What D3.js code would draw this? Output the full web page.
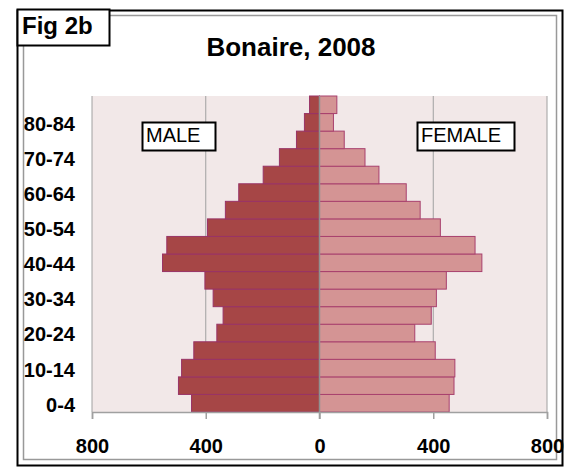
<!DOCTYPE html>
<html>
<head>
<meta charset="utf-8">
<script src="https://cdn.jsdelivr.net/npm/d3@7"></script>
<style>
body { margin: 0; background: #fff; }
text { font-family: Arial, "Liberation Sans", sans-serif; }
</style>
</head>
<body>
<div id="chart"></div>
<script>

// age groups, youngest first
var ageGroups = ["0-4", "5-9", "10-14", "15-19", "20-24", "25-29", "30-34", "35-39",
	"40-44", "45-49", "50-54", "55-59", "60-64", "65-69", "70-74", "75-79", "80-84", "85+"];
var male   = [450, 496, 485, 442, 361, 339, 374, 403, 552, 537, 394, 331, 284, 198, 141, 81, 53, 35];
var female = [456, 473, 476, 407, 335, 393, 411, 446, 571, 547, 425, 354, 305, 209, 160, 87, 49, 61];
var xTicks = [-800, -400, 0, 400, 800];
var yTickLabels = ["0-4", "10-14", "20-24", "30-34", "40-44", "50-54", "60-64", "70-74", "80-84"];

var width = 567, height = 467;
var plotLeft = 92, plotRight = 547, plotTop = 96, plotBottom = 412;

var svg = d3.select("#chart").append("svg")
	.attr("width", width)
	.attr("height", height);

// frames
svg.append("rect").attr("x", 17.5).attr("y", 10.5).attr("width", 545).attr("height", 455)
	.attr("fill", "none").attr("stroke", "#000").attr("stroke-width", 2);
svg.append("rect").attr("x", 23.5).attr("y", 15.5).attr("width", 533).attr("height", 444)
	.attr("fill", "none").attr("stroke", "#999").attr("stroke-width", 1.5);

var x = d3.scaleLinear().domain([-800, 800]).range([plotLeft, plotRight]);
var y = d3.scaleBand().domain(ageGroups.slice().reverse()).range([plotTop, plotBottom]).padding(0);

// plot background
svg.append("rect").attr("x", plotLeft).attr("y", plotTop)
	.attr("width", plotRight - plotLeft).attr("height", plotBottom - plotTop)
	.attr("fill", "#f2e8e8");

// vertical gridlines
svg.selectAll(".grid").data(xTicks).enter().append("line")
	.attr("class", "grid")
	.attr("x1", function(d) { return x(d); })
	.attr("x2", function(d) { return x(d); })
	.attr("y1", plotTop).attr("y2", plotBottom)
	.attr("stroke", "#a0a0a0").attr("stroke-width", 1);

// male bars
svg.selectAll(".male").data(ageGroups).enter().append("rect")
	.attr("class", "male")
	.attr("x", function(d, i) { return x(-male[i]); })
	.attr("y", function(d) { return y(d); })
	.attr("width", function(d, i) { return x(0) - x(-male[i]); })
	.attr("height", y.bandwidth())
	.attr("fill", "#a64646")
	.attr("stroke", "#993366").attr("stroke-width", 1);

// female bars
svg.selectAll(".female").data(ageGroups).enter().append("rect")
	.attr("class", "female")
	.attr("x", x(0))
	.attr("y", function(d) { return y(d); })
	.attr("width", function(d, i) { return x(female[i]) - x(0); })
	.attr("height", y.bandwidth())
	.attr("fill", "#d49494")
	.attr("stroke", "#a8406e").attr("stroke-width", 1);

// zero line
svg.append("line").attr("x1", x(0)).attr("x2", x(0)).attr("y1", plotTop).attr("y2", plotBottom + 7)
	.attr("stroke", "#909090").attr("stroke-width", 1.5);

// x axis
var xAxis = d3.axisBottom(x).tickValues(xTicks).tickSize(7)
	.tickFormat(function(d) { return Math.abs(d); });
var gx = svg.append("g").attr("transform", "translate(0," + plotBottom + ")").call(xAxis);
gx.select(".domain").attr("stroke", "#a0a0a0").attr("stroke-width", 1.5);
gx.selectAll(".tick line").attr("stroke", "#a0a0a0").attr("stroke-width", 1.5);
gx.selectAll(".tick text")
	.attr("y", 27)
	.attr("font-size", 20).attr("font-weight", "bold")
	.attr("font-family", "Arial, 'Liberation Sans', sans-serif")
	.attr("fill", "#000");

// y axis labels
var yAxis = d3.axisLeft(y).tickValues(yTickLabels).tickSize(0).tickPadding(17);
var gy = svg.append("g").attr("transform", "translate(" + plotLeft + ",0)").call(yAxis);
gy.select(".domain").remove();
gy.selectAll(".tick text")
	.attr("y", 2)
	.attr("font-size", 20).attr("font-weight", "bold")
	.attr("font-family", "Arial, 'Liberation Sans', sans-serif")
	.attr("fill", "#000");

// title
svg.append("text").attr("x", 291).attr("y", 56).attr("text-anchor", "middle")
	.attr("font-size", 26).attr("font-weight", "bold").text("Bonaire, 2008");

// Fig label
svg.append("rect").attr("x", 17.5).attr("y", 9.5).attr("width", 92).attr("height", 36)
	.attr("fill", "#fff").attr("stroke", "#000").attr("stroke-width", 2);
svg.append("text").attr("x", 22).attr("y", 34)
	.attr("font-size", 24).attr("font-weight", "bold").text("Fig 2b");

// MALE / FEMALE boxes
var boxes = [{label: "MALE", x: 142, w: 73}, {label: "FEMALE", x: 417, w: 97}];
boxes.forEach(function(b) {
	svg.append("rect").attr("x", b.x + 0.5).attr("y", 122.5).attr("width", b.w).attr("height", 28)
		.attr("fill", "#fff").attr("stroke", "#000").attr("stroke-width", 2);
	svg.append("text").attr("x", b.x + 4).attr("y", 142)
		.attr("font-size", 20).text(b.label);
});

</script>
</body>
</html>
